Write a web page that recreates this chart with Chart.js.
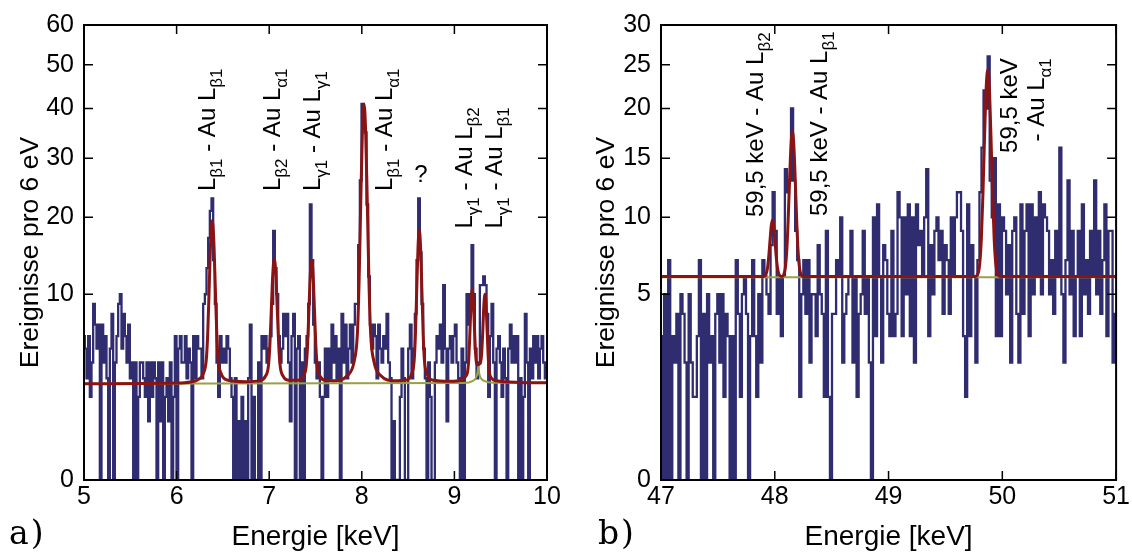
<!DOCTYPE html>
<html>
<head>
<meta charset="utf-8">
<script src="https://cdn.jsdelivr.net/npm/chart.js@4.4.1/dist/chart.umd.min.js"></script>
<style>
  html, body { margin: 0; padding: 0; background: #fff; }
  #wrap { position: relative; width: 1132px; height: 554px; overflow: hidden; background: #fff; }
  canvas { position: absolute; top: 0; }
  #ca { left: 0; }
  #cb { left: 566px; }
  .tag { position: absolute; font-family: 'DejaVu Serif', 'Liberation Serif', serif; font-size: 33px; line-height: 1; letter-spacing: 2px; color: #000; }
</style>
</head>
<body>
<div id="wrap">
  <canvas id="ca" width="566" height="554"></canvas>
  <canvas id="cb" width="566" height="554"></canvas>
  <div class="tag" style="left:9px; top:516px;">a)</div>
  <div class="tag" style="left:598px; top:516px;">b)</div>
</div>
<script>
// ---------- panel a) : 5 - 10 keV ----------
const binWidth = 0.018;          // keV per plotted channel
const startA = 5.0;
const countsA = [
  6,5,3,6,2, 4,9,7,5,7, 0,7,4,6,3, 0,5,8,0,4, 6,9,10,5,8, 6,4,7,3,4,
  0,4,0,2,4, 4,3,2,4,1, 4,2,4,3,0, 4,1,4,0,2, 3,1,4,0,2, 6,0,5,6,4,
  4,6,3,5,4, 0,6,3,6,5, 5,3,9,10,13, 17,21,23,14,9, 4,2,6,4,
  5,4,6,5,3, 2,0,3,0,1, 0,2,0,1,0, 3,7,0,2,0, 0,4,0,6,5, 6,4,5,6,9,
  18,13,10,6,4, 5,8,6,8,4, 1,6,8,0,5, 6,0,4,0,5, 6,9,22,14,7, 4,3,4,2,0,
  2,5,2,5,3, 7,4,6,3,5, 0,8,4,7,3, 5,7,4,7,9, 9,16,26,41,40, 35,22,12,7,5,
  7,6,3,7,5, 4,6,5,8,4, 3,0,1,0,0, 0,2,5,3,0, 0,5,7,3,5, 8,14,23,15,9,
  5,3,0,4,2, 0,0,4,6,5, 7,4,11,5,1, 5,6,4,6,7, 4,3,0,5,0, 4,10,7,10,16,
  10,5,3,4,11, 11,12,11,8,2, 6,9,4,0,5, 6,4,2,5,3, 0,5,7,4,6, 4,6,0,3,0,
  2,8,4,0,5, 3,6,4,6,3, 5,6,4,3,4
];
// fitted total curve (energy in keV, events)
const fitA_E = [5.0, 6.0, 6.15, 6.225, 6.289, 6.321, 6.337, 6.353, 6.369, 6.385, 6.401, 6.417, 6.433, 6.449, 6.481, 6.545,
  6.75, 6.895, 6.959, 6.991, 7.007, 7.023, 7.039, 7.055, 7.071, 7.087, 7.103, 7.119, 7.151, 7.215,
  7.309, 7.369, 7.399, 7.414, 7.429, 7.444, 7.459, 7.474, 7.489, 7.504, 7.519, 7.549, 7.609,
  7.70, 7.844, 7.916, 7.952, 7.970, 7.988, 8.006, 8.024, 8.042, 8.060, 8.078, 8.096, 8.132, 8.204, 8.35,
  8.481, 8.537, 8.565, 8.579, 8.593, 8.607, 8.621, 8.635, 8.649, 8.663, 8.677, 8.705, 8.761,
  8.95, 9.073, 9.121, 9.145, 9.157, 9.169, 9.181, 9.193, 9.205, 9.217, 9.229, 9.241, 9.258,
  9.270, 9.282, 9.294, 9.306, 9.318, 9.330, 9.342, 9.354, 9.366, 9.378, 9.402, 9.45, 9.7, 10.0];
const fitA_val = [2.68, 2.72, 2.78, 2.9, 3.29, 4.21, 6.4, 11.1, 16.8, 19.5, 16.8, 11.1, 6.4, 4.21, 3.29, 2.9,
  2.8, 2.86, 3.12, 3.75, 5.23, 8.45, 12.36, 14.2, 12.36, 8.45, 5.23, 3.75, 3.12, 2.88,
  2.88, 3.12, 3.72, 5.19, 8.35, 12.2, 14.0, 12.2, 8.35, 5.19, 3.72, 3.12, 2.88,
  2.86, 3.16, 4.04, 6.15, 11.1, 21.85, 34.9, 41.0, 34.9, 21.85, 11.1, 6.15, 4.04, 3.16, 2.86,
  2.9, 3.24, 4.09, 6.09, 10.4, 15.64, 18.1, 15.64, 10.4, 6.09, 4.09, 3.24, 2.9,
  2.82, 2.9, 3.1, 3.5, 4.5, 6.6, 9.25, 10.5, 9.25, 6.6, 4.6, 3.9, 3.85,
  3.9, 4.0, 4.6, 6.35, 8.83, 10.0, 8.83, 6.35, 4.3, 3.36, 3.0, 2.85, 2.76, 2.74];
// background component
const bgA_E = [5.0, 9.10, 9.20, 9.235, 9.25, 9.258, 9.266, 9.281, 9.32, 9.42, 10.0];
const bgA_val = [2.68, 2.72, 2.85, 3.05, 3.35, 3.75, 3.35, 3.05, 2.85, 2.74, 2.74];
const xTicksA = [5, 6, 7, 8, 9, 10];
const yTicksA = [0, 10, 20, 30, 40, 50, 60];
const labelsA = [
  { e: 6.323, v: 24.2, text: 'L_{β1} - Au L_{β1}', rot: true, align: 'start' },
  { e: 7.025, v: 24.2, text: 'L_{β2} - Au L_{α1}', rot: true, align: 'start' },
  { e: 7.457, v: 24.2, text: 'L_{γ1} - Au L_{γ1}', rot: true, align: 'start' },
  { e: 8.234, v: 24.2, text: 'L_{β1} - Au L_{α1}', rot: true, align: 'start' },
  { e: 8.639, v: 27.2, text: '?', rot: false, align: 'center' },
  { e: 9.098, v: 18.33, text: 'L_{γ1} - Au L_{β2}', rot: true, align: 'start' },
  { e: 9.417, v: 18.33, text: 'L_{γ1} - Au L_{β1}', rot: true, align: 'start' }
];

// ---------- panel b) : 47 - 51 keV ----------
const startB = 47.0;
const countsB = [
  3,0,5,0,7, 0,3,2,4,0, 5,4,2,0,5, 2,1,1,3,7, 0,4,0,5,2, 3,0,4,5,2,
  5,1,4,3,0, 3,0,7,4,1, 5,6,4,0,3, 7,3,1,5,2, 7,6,5,4,8, 12,9,4,6,3,
  6,14,12,13,20, 13,9,7,1,5, 7,4,7,2,5, 5,3,8,5,4, 1,9,1,0,4, 4,7,6,10,2,
  4,5,6,9,2, 6,1,4,5,9, 4,6,2,0,10, 3,11,6,2,8, 7,4,3,9,3, 4,12,10,3,10,
  5,11,3,10,2, 11,8,9,6,10, 14,3,8,5,9, 10,7,9,4,8, 7,4,10,6,10, 12,12,9,3,1,
  11,3,8,6,2, 7,12,16,22,20, 26,13,10,15,3, 11,3,10,9,5, 8,2,9,10,4, 2,11,4,9,11,
  3,11,5,10,6, 12,5,11,10,9, 5,7,4,9,6, 16,5,2,7,13, 5,9,3,6,9, 3,11,5,7,4,
  9,6,13,5,9, 4,7,11,3,9, 9,2,4
];
const fitB_E = [47.0, 47.88, 47.914, 47.925, 47.936, 47.947, 47.958, 47.969, 47.98, 47.991, 48.002, 48.013, 48.024, 48.035, 48.046,
  48.062, 48.08, 48.0925, 48.105, 48.1175, 48.13, 48.1425, 48.155, 48.1675, 48.18, 48.1925, 48.205, 48.2175, 48.23, 48.255,
  49.76, 49.788, 49.802, 49.816, 49.830, 49.844, 49.858, 49.872, 49.886, 49.900, 49.914, 49.928, 49.942, 49.956, 49.984, 51.0];
const fitB_val = [6.0, 6.0, 6.04, 6.17, 6.51, 7.23, 8.3, 9.35, 9.8, 9.35, 8.3, 7.23, 6.51, 6.17, 6.04,
  6.0, 6.13, 6.51, 7.57, 9.77, 13.04, 16.24, 17.6, 16.24, 13.04, 9.77, 7.57, 6.51, 6.13, 6.0,
  6.0, 6.2, 6.81, 8.49, 11.97, 17.16, 22.24, 24.4, 22.24, 17.16, 11.97, 8.49, 6.81, 6.2, 6.0, 6.0];
const bgB_E = [47.0, 51.0];
const bgB_val = [5.96, 5.96];
const xTicksB = [47, 48, 49, 50, 51];
const yTicksB = [0, 5, 10, 15, 20, 25, 30];
const labelsB = [
  { e: 47.823, v: 10.02, text: '59,5 keV - Au L_{β2}', rot: true, align: 'start' },
  { e: 48.385, v: 10.1, text: '59,5 keV - Au L_{β1}', rot: true, align: 'start' },
  { e: 50.056, v: 25.78, text: '59,5 keV', rot: true, align: 'end' },
  { e: 50.286, v: 25.78, text: '- Au L_{α1}', rot: true, align: 'end' }
];

// ---------- styling ----------
const BLUE = '#302c70';
const RED = '#8a1414';
const GREEN = '#9aa145';
const SANS = "'Liberation Sans', Arial, Helvetica, sans-serif";

// square-root value axis
class SqrtScale extends Chart.LinearScale {
  getPixelForValue(value) {
    const lo = Math.sqrt(this.min), hi = Math.sqrt(this.max);
    return this.getPixelForDecimal((Math.sqrt(Math.max(value, 0)) - lo) / (hi - lo));
  }
  getValueForPixel(pixel) {
    const lo = Math.sqrt(this.min), hi = Math.sqrt(this.max);
    const s = lo + this.getDecimalForPixel(pixel) * (hi - lo);
    return s * s;
  }
}
SqrtScale.id = 'sqrt';
SqrtScale.defaults = Chart.LinearScale.defaults;
Chart.register(SqrtScale);

// closed frame with inward ticks on all four sides
const framePlugin = {
  id: 'frame',
  afterDatasetsDraw(chart) {
    const { ctx, chartArea: a, scales: { x, y } } = chart;
    const len = 9;
    ctx.save();
    ctx.strokeStyle = '#000';
    ctx.lineWidth = 1.5;
    ctx.beginPath();
    x.ticks.forEach(t => {
      const px = x.getPixelForValue(t.value);
      ctx.moveTo(px, a.bottom); ctx.lineTo(px, a.bottom - len);
      ctx.moveTo(px, a.top); ctx.lineTo(px, a.top + len);
    });
    y.ticks.forEach(t => {
      const py = y.getPixelForValue(t.value);
      ctx.moveTo(a.left, py); ctx.lineTo(a.left + len, py);
      ctx.moveTo(a.right, py); ctx.lineTo(a.right - len, py);
    });
    ctx.stroke();
    ctx.lineWidth = 2;
    ctx.strokeRect(a.left, a.top, a.right - a.left, a.bottom - a.top);
    ctx.restore();
  }
};

// text with subscripts written as X_{sub}
function splitRich(text) {
  const segs = [];
  const re = /_\{([^}]*)\}/g;
  let last = 0, m;
  while ((m = re.exec(text)) !== null) {
    if (m.index > last) segs.push({ t: text.slice(last, m.index), sub: false });
    segs.push({ t: m[1], sub: true });
    last = re.lastIndex;
  }
  if (last < text.length) segs.push({ t: text.slice(last), sub: false });
  return segs;
}

function makeLabelPlugin(labels) {
  const F = 24, S = 17;
  return {
    id: 'peakLabels',
    afterDatasetsDraw(chart) {
      const { ctx, scales: { x, y } } = chart;
      ctx.save();
      ctx.fillStyle = '#000';
      ctx.textBaseline = 'alphabetic';
      ctx.textAlign = 'left';
      labels.forEach(l => {
        const px = x.getPixelForValue(l.e);
        const py = y.getPixelForValue(l.v);
        const segs = splitRich(l.text);
        let w = 0;
        segs.forEach(s => { ctx.font = (s.sub ? S : F) + 'px ' + SANS; w += ctx.measureText(s.t).width; });
        ctx.save();
        ctx.translate(px, py);
        if (l.rot) ctx.rotate(-Math.PI / 2);
        let cx = l.align === 'end' ? -w : (l.align === 'center' ? -w / 2 : 0);
        const base = 0.36 * F;
        segs.forEach(s => {
          ctx.font = (s.sub ? S : F) + 'px ' + SANS;
          ctx.fillText(s.t, cx, base + (s.sub ? 0.3 * F : 0));
          cx += ctx.measureText(s.t).width;
        });
        ctx.restore();
      });
      ctx.restore();
    }
  };
}

function toPoints(xs, ys) { return xs.map((e, i) => ({ x: e, y: ys[i] })); }
function binPoints(start, counts) { return counts.map((c, i) => ({ x: start + i * binWidth, y: c })); }

function makeChart(id, cfg) {
  const tickFont = { family: SANS, size: 25 };
  return new Chart(document.getElementById(id), {
    type: 'line',
    data: {
      datasets: [
        { data: cfg.fit, borderColor: RED, borderWidth: 3, pointRadius: 0, cubicInterpolationMode: 'monotone', order: 1 },
        { data: cfg.bg, borderColor: GREEN, borderWidth: 2, pointRadius: 0, cubicInterpolationMode: 'monotone', order: 2 },
        { data: cfg.counts, borderColor: BLUE, borderWidth: 2.3, pointRadius: 0, stepped: 'middle', order: 3 }
      ]
    },
    options: {
      responsive: false,
      animation: false,
      devicePixelRatio: 1,
      events: [],
      layout: { padding: cfg.pad },
      plugins: { legend: { display: false }, tooltip: { enabled: false } },
      scales: {
        x: {
          type: 'linear', min: cfg.xMin, max: cfg.xMax,
          afterBuildTicks: s => { s.ticks = cfg.xTicks.map(v => ({ value: v })); },
          afterFit: s => { s.height = 74; },
          grid: { display: false, drawTicks: false },
          border: { display: false },
          ticks: { font: tickFont, color: '#000', padding: 2, maxRotation: 0, autoSkip: false },
          title: { display: true, text: 'Energie [keV]', font: { family: SANS, size: 28 }, color: '#000', padding: { top: 0, bottom: 0 } }
        },
        y: {
          type: 'sqrt', min: 0, max: cfg.yMax,
          afterBuildTicks: s => { s.ticks = cfg.yTicks.map(v => ({ value: v })); },
          afterFit: s => { s.width = cfg.yWidth; },
          grid: { display: false, drawTicks: false },
          border: { display: false },
          ticks: { font: tickFont, color: '#000', padding: 10, autoSkip: false },
          title: { display: true, text: 'Ereignisse pro 6 eV', font: { family: SANS, size: 26.5 }, color: '#000', padding: { top: cfg.yTitlePad, bottom: 0 } }
        }
      }
    },
    plugins: [framePlugin, makeLabelPlugin(cfg.labels)]
  });
}

makeChart('ca', {
  counts: binPoints(startA, countsA),
  fit: toPoints(fitA_E, fitA_val),
  bg: toPoints(bgA_E, bgA_val),
  xMin: 5, xMax: 10, yMax: 60,
  xTicks: xTicksA, yTicks: yTicksA, labels: labelsA,
  pad: { left: 0, right: 19, top: 18, bottom: 0 },
  yWidth: 84, yTitlePad: 15
});

makeChart('cb', {
  counts: binPoints(startB, countsB),
  fit: toPoints(fitB_E, fitB_val),
  bg: toPoints(bgB_E, bgB_val),
  xMin: 47, xMax: 51, yMax: 30,
  xTicks: xTicksB, yTicks: yTicksB, labels: labelsB,
  pad: { left: 0, right: 9, top: 18, bottom: 0 },
  yWidth: 95, yTitlePad: 25
});
</script>
</body>
</html>
